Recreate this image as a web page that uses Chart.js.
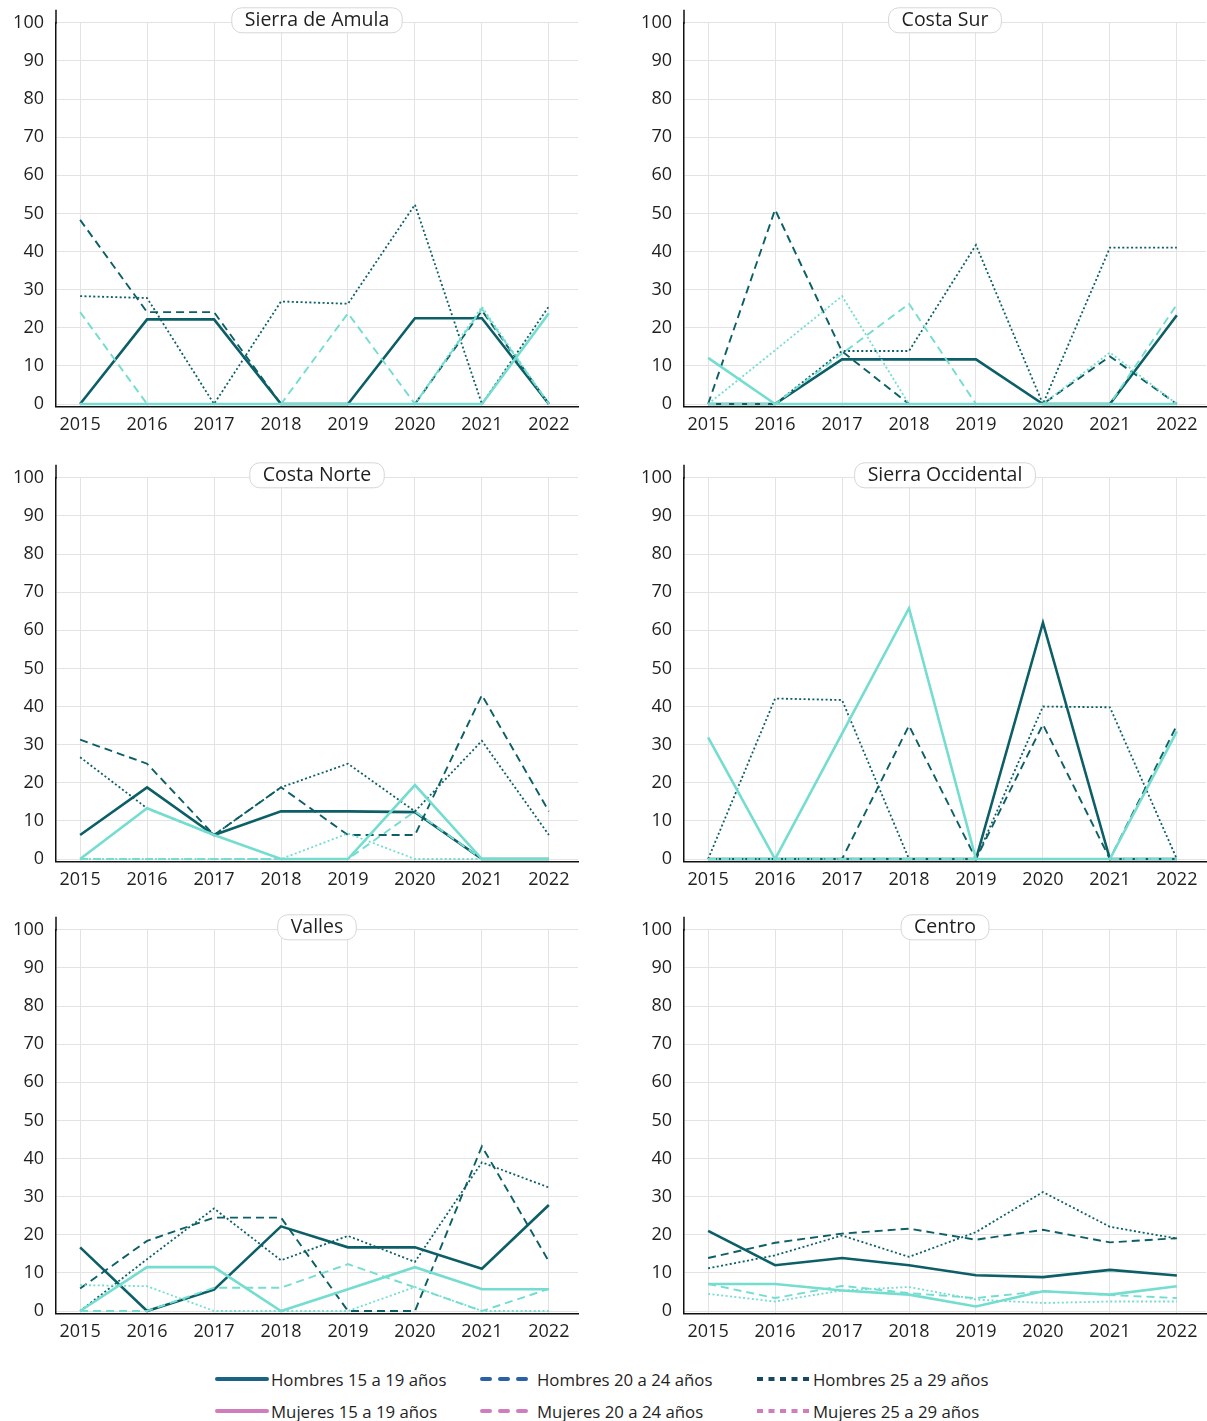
<!DOCTYPE html>
<html lang="es">
<head>
<meta charset="utf-8">
<title>Jóvenes 15 a 29 años por región</title>
<script src="https://cdn.jsdelivr.net/npm/chart.js@4.4.1/dist/chart.umd.min.js"></script>
<style>
  html, body { margin: 0; padding: 0; background: #fff; width: 1207px; height: 1421px; overflow: hidden; }
  body { position: relative; font-family: "Open Sans", sans-serif; }
  .panel { position: absolute; }
  .legend-item { position: absolute; height: 20px; display: flex; align-items: center; font-size: 16.8px; color: #1f1f1f; white-space: nowrap; }
  .legend-item svg { position: absolute; top: 6px; }
  .legend-item span { position: absolute; }
</style>
</head>
<body>
<script>
// ---- data -------------------------------------------------------------
const years = [2015, 2016, 2017, 2018, 2019, 2020, 2021, 2022];
const yTicks = [0, 10, 20, 30, 40, 50, 60, 70, 80, 90, 100];

const seriesLabels = [
  'Hombres 15 a 19 años', 'Hombres 20 a 24 años', 'Hombres 25 a 29 años',
  'Mujeres 15 a 19 años', 'Mujeres 20 a 24 años', 'Mujeres 25 a 29 años'
];

// one row per series, in the order of seriesLabels
const sierraDeAmula = [
  [0, 22.2, 22.2, 0, 0, 22.5, 22.5, 0],
  [48.3, 24.1, 24.1, 0, 0, 0, 24.5, 0],
  [28.3, 27.8, 0, 26.9, 26.3, 52.3, 0, 25.6],
  [0, 0, 0, 0, 0, 0, 0, 23.8],
  [24.1, 0, 0, 0, 23.8, 0, 25.0, 0],
  [0, 0, 0, 0, 0, 0, 25.5, 0]
];
const costaSur = [
  [0, 0, 11.7, 11.7, 11.7, 0, 0, 23.3],
  [0, 51.0, 13.8, 0, 0, 0, 12.5, 0],
  [0, 0, 13.9, 13.9, 41.7, 0, 41.0, 41.0],
  [12.1, 0, 0, 0, 0, 0, 0, 0],
  [0, 0, 13.2, 26.3, 0, 0, 0, 26.1],
  [0, 14.1, 28.3, 0, 0, 0, 13.5, 0]
];
const costaNorte = [
  [6.3, 18.8, 6.3, 12.5, 12.5, 12.3, 0, 0],
  [31.3, 25.0, 6.3, 18.8, 6.3, 6.3, 43.0, 12.5],
  [26.7, 13.3, 6.3, 18.8, 25.0, 12.5, 31.0, 6.3],
  [0, 13.3, 6.3, 0, 0, 19.4, 0, 0],
  [0, 0, 0, 0, 0, 12.5, 0, 0],
  [0, 0, 0, 0, 6.7, 0, 0, 0]
];
const sierraOccidental = [
  [0, 0, 0, 0, 0, 62.0, 0, 0],
  [0, 0, 0, 35.0, 0, 35.3, 0, 35.1],
  [0, 42.1, 41.7, 0, 0, 40.0, 39.8, 0],
  [31.9, 0, 32.9, 65.8, 0, 0, 0, 33.5],
  [0, 0, 0, 0, 0, 0, 0, 0],
  [0, 0, 0, 0, 0, 0, 0, 0]
];
const valles = [
  [16.7, 0, 5.6, 22.2, 16.7, 16.7, 11.1, 27.8],
  [5.9, 18.4, 24.5, 24.5, 0, 0, 43.2, 13.0],
  [0, 13.6, 26.9, 13.3, 19.7, 12.9, 39.0, 32.4],
  [0, 11.5, 11.5, 0, 5.7, 11.5, 5.7, 5.7],
  [0, 0, 6.1, 6.1, 12.3, 6.2, 0, 5.8],
  [6.8, 6.5, 0, 0, 0, 6.3, 0, 0]
];
const centro = [
  [21.0, 12.0, 13.9, 12.0, 9.4, 8.9, 10.8, 9.3],
  [13.9, 17.9, 20.3, 21.6, 18.7, 21.3, 18.0, 19.1],
  [11.2, 14.6, 19.8, 14.2, 20.7, 31.2, 22.1, 19.0],
  [7.1, 7.1, 5.4, 4.3, 1.2, 5.2, 4.3, 6.5],
  [7.1, 3.4, 6.6, 4.7, 3.4, 5.2, 4.2, 3.4],
  [4.5, 2.5, 5.4, 6.3, 3.0, 2.1, 2.5, 2.5]
];

const regionNames = ['Sierra de Amula', 'Costa Sur', 'Costa Norte', 'Sierra Occidental', 'Valles', 'Centro'];
const regionData = [sierraDeAmula, costaSur, costaNorte, sierraOccidental, valles, centro];

// ---- styles -----------------------------------------------------------
const DARK = '#0c5f66';
const LIGHT = '#74ddd0';
const lineStyles = [
  { color: DARK,  width: 2.6, dash: [] },
  { color: DARK,  width: 1.9, dash: [8, 5] },
  { color: DARK,  width: 1.8, dash: [2, 2.4] },
  { color: LIGHT, width: 2.6, dash: [] },
  { color: LIGHT, width: 1.9, dash: [8, 5] },
  { color: LIGHT, width: 1.8, dash: [2, 2.4] }
];
const legendStyles = [
  { color: '#1b6382', kind: 'solid' },
  { color: '#2a60a6', kind: 'dash' },
  { color: '#16495f', kind: 'dot' },
  { color: '#cf7dbd', kind: 'solid' },
  { color: '#cf7dbd', kind: 'dash' },
  { color: '#cf7dbd', kind: 'dot' }
];

const TEXT = '#1f1f1f';
const GRID = '#e3e3e3';
const AXIS = '#111';
const tickFont = { family: '"Open Sans", sans-serif', size: 18 };

// rounded title tag over each panel, plus the short y-axis stub above 100
const panelDecor = {
  id: 'panelDecor',
  afterDraw(chart, args, opts) {
    const { ctx, chartArea } = chart;
    const { left, right, top } = chartArea;
    ctx.save();
    ctx.beginPath();
    ctx.moveTo(left, top - 13);
    ctx.lineTo(left, top + 1);
    ctx.strokeStyle = AXIS;
    ctx.lineWidth = 1.5;
    ctx.stroke();

    ctx.font = '19.5px "Open Sans", sans-serif';
    const w = ctx.measureText(opts.text).width + 26;
    const h = 25;
    const cx = (left + right) / 2;
    const cy = top - 2.5;
    ctx.beginPath();
    ctx.roundRect(cx - w / 2, cy - h / 2, w, h, 10);
    ctx.fillStyle = '#fff';
    ctx.fill();
    ctx.strokeStyle = '#d6d6d6';
    ctx.lineWidth = 1;
    ctx.stroke();
    ctx.fillStyle = TEXT;
    ctx.textAlign = 'center';
    ctx.textBaseline = 'middle';
    ctx.fillText(opts.text, cx, cy + 0.5);
    ctx.restore();
  }
};

// ---- panels -----------------------------------------------------------
const colLeft = [0, 628];
const rowTop = [0, 455, 907];
const CW = 580, CH = 440;

regionData.forEach((rows, i) => {
  const canvas = document.createElement('canvas');
  canvas.className = 'panel';
  canvas.width = CW;
  canvas.height = CH;
  canvas.style.width = CW + 'px';
  canvas.style.height = CH + 'px';
  canvas.style.left = colLeft[i % 2] + 'px';
  canvas.style.top = rowTop[Math.floor(i / 2)] + 'px';
  document.body.appendChild(canvas);

  const datasets = rows.map((vals, s) => ({
    label: seriesLabels[s],
    data: years.map((yr, k) => ({ x: yr, y: vals[k] })),
    borderColor: lineStyles[s].color,
    borderWidth: lineStyles[s].width,
    borderDash: lineStyles[s].dash,
    borderCapStyle: 'butt',
    borderJoinStyle: 'miter',
    pointRadius: 0,
    tension: 0,
    fill: false,
    order: s < 3 ? 1 : 0
  }));

  new Chart(canvas, {
    type: 'line',
    data: { datasets },
    plugins: [panelDecor],
    options: {
      responsive: false,
      animation: false,
      devicePixelRatio: 1,
      layout: { padding: { top: 21, right: 2, bottom: 0, left: 0 } },
      plugins: {
        legend: { display: false },
        tooltip: { enabled: false },
        panelDecor: { text: regionNames[i] }
      },
      scales: {
        x: {
          type: 'linear',
          min: 2014.64,
          max: 2022.435,
          afterBuildTicks: a => { a.ticks = years.map(v => ({ value: v })); },
          afterFit: a => { a.height = 33.7; },
          grid: { color: GRID, lineWidth: 1, drawTicks: false },
          border: { color: AXIS, width: 1.5 },
          ticks: { padding: 8, font: tickFont, color: TEXT, maxRotation: 0, autoSkip: false, callback: v => String(v) }
        },
        y: {
          min: -0.6,
          max: 100,
          afterBuildTicks: a => { a.ticks = yTicks.map(v => ({ value: v })); },
          afterFit: a => { a.width = 56; },
          grid: { color: GRID, lineWidth: 1, drawTicks: false },
          border: { color: AXIS, width: 1.5 },
          ticks: { padding: 12, font: tickFont, color: TEXT, callback: v => String(v) }
        }
      }
    }
  });
});

// ---- legend -----------------------------------------------------------
const legendCols = [{ sw: 215, tx: 271 }, { sw: 480, tx: 537 }, { sw: 757, tx: 813 }];
const legendRows = [1369, 1401];
const SVGNS = 'http://www.w3.org/2000/svg';

seriesLabels.forEach((label, s) => {
  const col = legendCols[s % 3];
  const top = legendRows[Math.floor(s / 3)];
  const item = document.createElement('div');
  item.className = 'legend-item';
  item.style.left = col.sw + 'px';
  item.style.top = top + 'px';

  const svg = document.createElementNS(SVGNS, 'svg');
  svg.setAttribute('width', '54');
  svg.setAttribute('height', '8');
  svg.style.left = '0px';
  const ln = document.createElementNS(SVGNS, 'line');
  const st = legendStyles[s];
  ln.setAttribute('y1', '4');
  ln.setAttribute('y2', '4');
  ln.setAttribute('stroke', st.color);
  ln.setAttribute('stroke-width', '4');
  if (st.kind === 'solid') {
    ln.setAttribute('x1', '2'); ln.setAttribute('x2', '52');
    ln.setAttribute('stroke-linecap', 'round');
  } else if (st.kind === 'dash') {
    ln.setAttribute('x1', '2'); ln.setAttribute('x2', '48');
    ln.setAttribute('stroke-linecap', 'round');
    ln.setAttribute('stroke-dasharray', '8 10');
  } else {
    ln.setAttribute('x1', '0'); ln.setAttribute('x2', '52');
    ln.setAttribute('stroke-dasharray', '6 5.5');
  }
  svg.appendChild(ln);
  item.appendChild(svg);

  const span = document.createElement('span');
  span.textContent = label;
  span.style.left = (col.tx - col.sw) + 'px';
  item.appendChild(span);
  document.body.appendChild(item);
});
</script>
</body>
</html>
